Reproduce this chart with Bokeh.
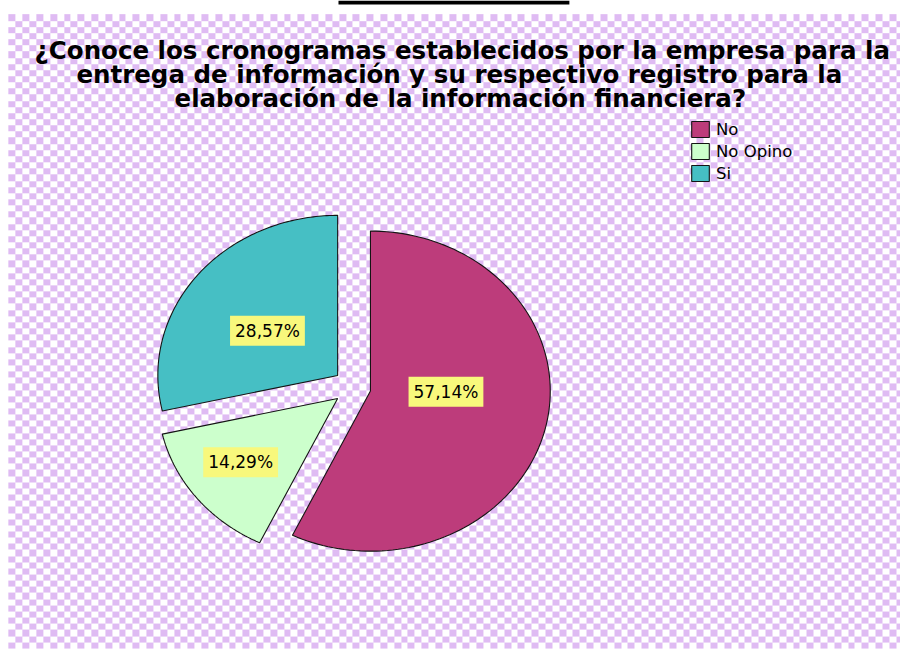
import numpy as np
from bokeh.plotting import figure
from bokeh.models import Range1d, Legend, LegendItem
from bokeh.core.properties import value
from bokeh.embed import file_html
from bokeh.resources import INLINE

# ---- data ----
categories = ["No", "No Opino", "Si"]
percents = [57.14, 14.29, 28.57]
pct_labels = ["57,14%", "14,29%", "28,57%"]
title_lines = [
    "¿Conoce los cronogramas establecidos por la empresa para la",
    "entrega de información y su respectivo registro para la",
    "elaboración de la información financiera?",
]

# ---- style / layout ----
colors = ["#bd3c7b", "#ccffcc", "#46bfc4"]
label_frac = [0.42, 0.67, 0.48]
label_shift_deg = [-12.4, 2.2, -3.0]
REF_W, REF_H = 916, 666          # coordinate frame (reference pixels)
W, H = 900, 650                  # figure size in screen px
SX, SY = W / REF_W, H / REF_H
CX, CY, RX, RY, EXPLODE = 358, 396, 183, 164, 19

p = figure(width=W, height=H, x_range=Range1d(0, REF_W), y_range=Range1d(REF_H, 0),
           output_backend="svg", toolbar_location=None,
           x_axis_location=None, y_axis_location=None, min_border=0)
p.grid.visible = False
p.outline_line_color = None
p.background_fill_color = "white"
p.border_fill_color = "white"

# checkered background (built at screen resolution)
bx0, bx1, by0, by1 = 8, 916, 14, 664
w = int(round((bx1 - bx0) * SX))
h = int(round((by1 - by0) * SY))
ix = np.arange(w)
iy = np.arange(h)
cell = ((np.floor(ix / (7.0 * SX))[None, :] + np.floor(iy / (6.3 * SY))[:, None]) % 2).astype(bool)
img = np.empty((h, w), dtype=np.uint32)
view = img.view(dtype=np.uint8).reshape((h, w, 4))
view[..., 0] = np.where(cell, 255, 223)
view[..., 1] = np.where(cell, 255, 187)
view[..., 2] = np.where(cell, 255, 243)
view[..., 3] = 255
p.image_rgba(image=[img], x=bx0, y=by0, dw=bx1 - bx0, dh=by1 - by0)

# black bar at top
p.quad(left=[344], right=[579], top=[0], bottom=[4], fill_color="black", line_color=None)

# pie slices (exploded, slightly elliptical)
frac = np.array(percents) / sum(percents)
end = np.cumsum(frac) * 2 * np.pi
start = end - frac * 2 * np.pi
xs, ys, lx, ly = [], [], [], []
for i in range(len(categories)):
    mid = (start[i] + end[i]) / 2
    ox = CX + EXPLODE * np.sin(mid)
    oy = CY - EXPLODE * np.cos(mid)
    t = np.linspace(start[i], end[i], 120)
    xs.append(np.concatenate([[ox], ox + RX * np.sin(t)]).tolist())
    ys.append(np.concatenate([[oy], oy - RY * np.cos(t)]).tolist())
    la = mid + np.radians(label_shift_deg[i])
    lx.append(ox + label_frac[i] * RX * np.sin(la))
    ly.append(oy - label_frac[i] * RY * np.cos(la))

r = p.patches(xs=xs, ys=ys, fill_color=colors, line_color="#141414", line_width=1.1)

p.text(x=lx, y=ly, text=pct_labels, text_align="center", text_baseline="middle",
       text_font=value("DejaVu Sans"), text_font_size="17px", text_color="black",
       background_fill_color="#f8f87c", padding=5)

# title
p.text(x=[470, 467, 468], y=[51, 75.5, 100], text=title_lines, text_align="center",
       text_baseline="alphabetic", text_font=value("DejaVu Sans"), text_font_style="bold",
       text_font_size="24.5px", text_color="black")

leg_bottom = 187
legend = Legend(items=[LegendItem(label=c, renderers=[r], index=i) for i, c in enumerate(categories)],
                location=(int(round(701 * SX)), int(round((REF_H - leg_bottom) * SY))),
                orientation="vertical",
                glyph_width=22, glyph_height=20, label_height=20, spacing=2,
                label_standoff=5, padding=0, margin=0,
                label_text_font="DejaVu Sans", label_text_font_size="16.5px",
                label_text_color="black",
                background_fill_alpha=0, border_line_color=None)
p.add_layout(legend)

open("out.html", "w").write(file_html(p, INLINE))
